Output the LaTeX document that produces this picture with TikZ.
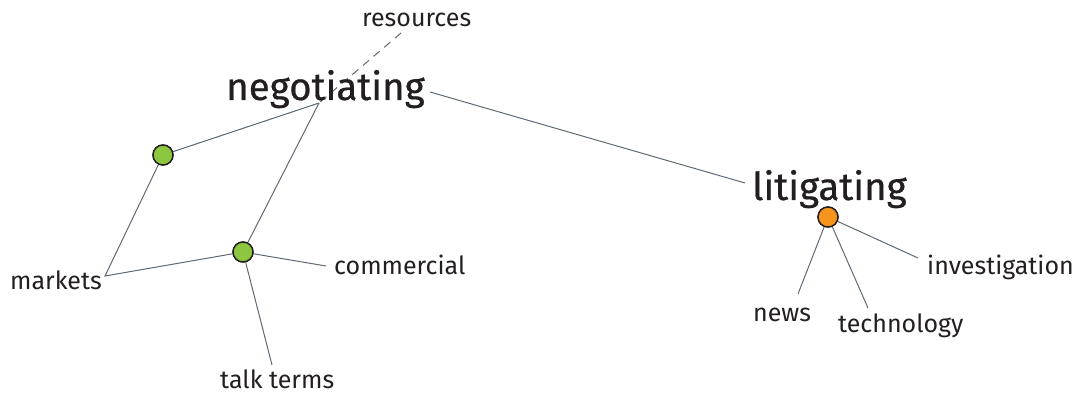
\documentclass[tikz,border=0pt]{standalone}
\usepackage{fontspec}
\setmainfont{Fira Sans}
\newfontfamily\bigfont[FakeBold=0.6]{Fira Sans}
\definecolor{txt}{RGB}{35,31,32}
\definecolor{ln}{RGB}{95,105,115}
\definecolor{grn}{RGB}{141,198,63}
\definecolor{org}{RGB}{247,148,29}
\tikzset{
  big/.style={anchor=base west,inner sep=0pt,text=txt,font=\bigfont\fontsize{38.5}{42}\selectfont},
  small/.style={anchor=base west,inner sep=0pt,text=txt,font=\fontsize{25}{29}\selectfont},
  conn/.style={draw=ln,line width=1pt},
  dot/.style={circle,draw=txt,line width=1.4pt,minimum size=20pt,inner sep=0pt},
}
\begin{document}
\begin{tikzpicture}[x=1pt,y=-1pt]
\useasboundingbox (0,0) rectangle (1081,395);
% coordinates
\coordinate (nj) at (319,103);
\coordinate (rj) at (401,33);
\coordinate (mj) at (105,276);
\coordinate (cj) at (326,266);
\coordinate (tj) at (272,365);
\coordinate (nl) at (430,92);
\coordinate (ll) at (745,183);
\coordinate (nwj) at (798,294);
\coordinate (tcj) at (868,308);
\coordinate (ivj) at (918,258);
% dots
\node[dot,fill=grn] (g1) at (163,155) {};
\node[dot,fill=grn] (g2) at (243,252) {};
\node[dot,fill=org] (o1) at (828,217) {};
% connectors
\draw[conn,dashed,dash pattern=on 8pt off 6pt] (rj) -- (nj);
\draw[conn] (g1) -- (nj);
\draw[conn] (g2) -- (nj);
\draw[conn] (g1) -- (mj) -- (g2);
\draw[conn] (g2) -- (cj);
\draw[conn] (g2) -- (tj);
\draw[conn] (nl) -- (ll);
\draw[conn] (o1) -- (nwj);
\draw[conn] (o1) -- (tcj);
\draw[conn] (o1) -- (ivj);
% redraw dots on top
\node[dot,fill=grn] at (g1) {};
\node[dot,fill=grn] at (g2) {};
\node[dot,fill=org] at (o1) {};
% labels
\node[big] (neg) at (226,100) {negotiating};
\node[big] (lit) at (752,200) {litigating};
\node[small] (res) at (362,27) {resources};
\node[small] (mar) at (10,290) {markets};
\node[small] (com) at (334,275) {commercial};
\node[small] (tal) at (220,388) {talk terms};
\node[small] (new) at (753,321) {news};
\node[small] (tec) at (838,332) {technology};
\node[small] (inv) at (927,275) {investigation};
\end{tikzpicture}
\end{document}
